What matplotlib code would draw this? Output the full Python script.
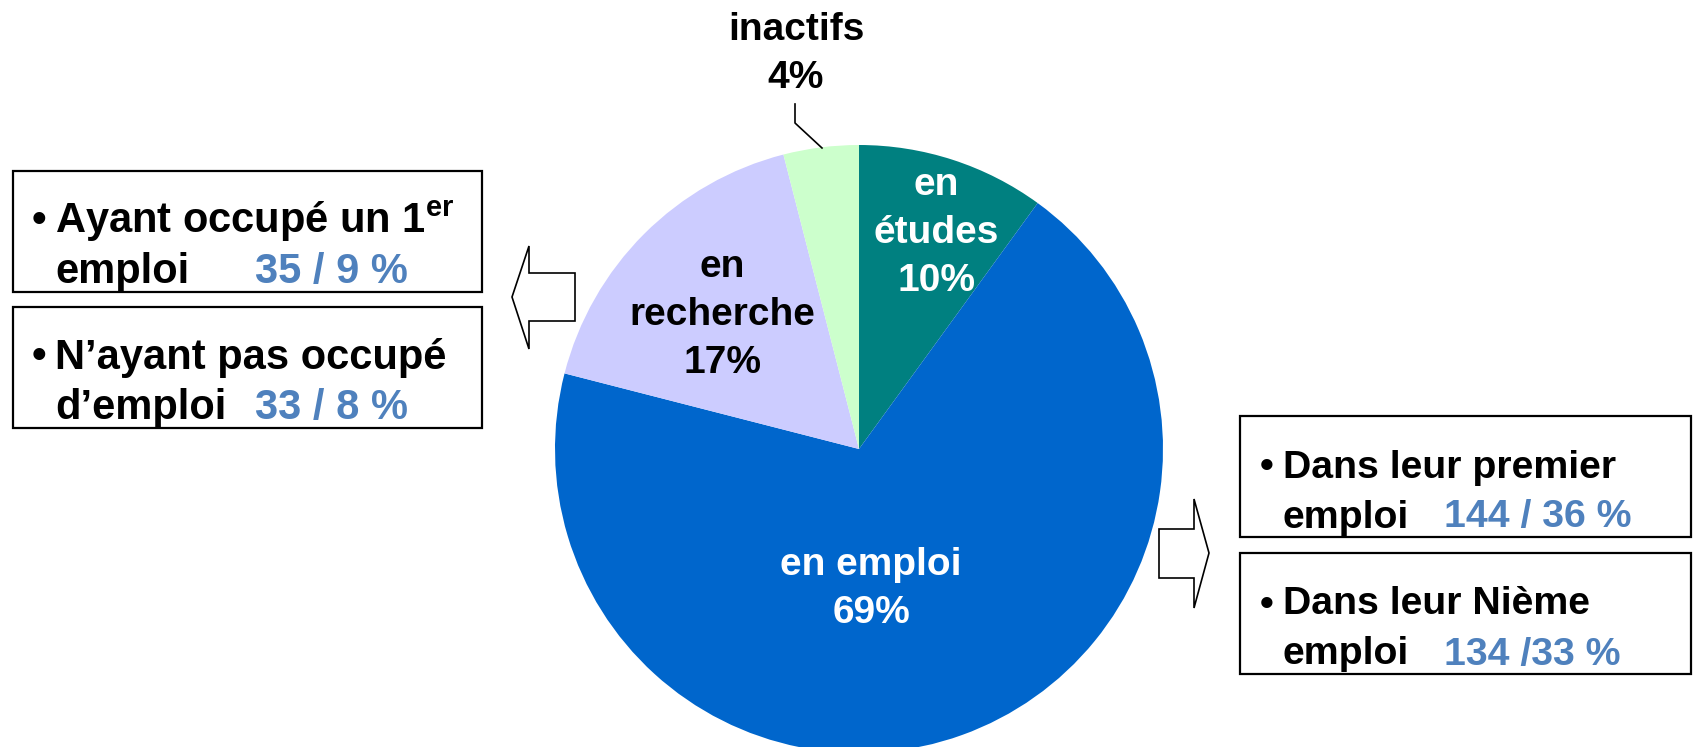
import matplotlib
matplotlib.use("Agg")
import matplotlib.pyplot as plt
from matplotlib.patches import Rectangle, Polygon

plt.rcParams["font.family"] = ["Liberation Sans", "DejaVu Sans"]
plt.rcParams["mathtext.fontset"] = "custom"
plt.rcParams["mathtext.rm"] = "Liberation Sans"
plt.rcParams["mathtext.bf"] = "Liberation Sans:bold"

# pie data (clockwise from 12 o'clock)
categories = ["en études", "en emploi", "en recherche", "inactifs"]
shares = [10, 69, 17, 4]
colors = ["#008080", "#0066CC", "#CCCCFF", "#CCFFCC"]
label_lines = [["en", "études", "10%"], ["en emploi", "69%"],
               ["en", "recherche", "17%"], ["inactifs", "4%"]]
label_colors = ["white", "white", "black", "black"]

# detail boxes
left_items = [("Ayant occupé un 1$^{\\mathbf{er}}$", "emploi", "35 / 9 %"),
              ("N’ayant pas occupé", "d’emploi", "33 / 8 %")]
right_items = [("Dans leur premier", "emploi", "144 / 36 %"),
               ("Dans leur Nième", "emploi", "134 /33 %")]

W, H = 1693, 747
BLUE_TXT = "#4F81BD"


def Y(y):
    return H - y


fig = plt.figure(figsize=(W / 100, H / 100), dpi=100)
ax = fig.add_axes([0, 0, 1, 1])

cx, cy, r = 859, 449, 304
wedges, _ = ax.pie(shares, colors=colors, startangle=90, counterclock=False,
                   center=(cx, Y(cy)), radius=r,
                   wedgeprops=dict(linewidth=0))
ax.set_xlim(0, W)
ax.set_ylim(0, H)
ax.set_aspect("equal")
ax.axis("off")

# pie labels: (center x, first baseline y)
label_pos = [(936, 195), (871, 575), (722, 277), (796, 40)]
for lines, (lx, ly), col in zip(label_lines, label_pos, label_colors):
    for k, line in enumerate(lines):
        ax.text(lx, Y(ly + k * 48), line, ha="center", va="baseline",
                fontsize=28, fontweight="bold", color=col)

# leader line for inactifs
ax.plot([795, 795, 822], [Y(104), Y(123), Y(148)], color="black", lw=1.2)


def draw_box(x0, x1, y0, y1, item, bx, tx, vx, fs):
    ax.add_patch(Rectangle((x0, Y(y1)), x1 - x0, y1 - y0, fill=False,
                           edgecolor="black", lw=1.6))
    first, second, val = item
    b1 = y0 + (y1 - y0) / 2 - 25 + 26
    ax.text(bx, Y(b1), "•", ha="center", va="baseline", fontsize=fs,
            fontweight="bold")
    ax.text(tx, Y(b1), first, ha="left", va="baseline", fontsize=fs,
            fontweight="bold")
    ax.text(tx, Y(b1 + 50), second, ha="left", va="baseline", fontsize=fs,
            fontweight="bold")
    ax.text(vx, Y(b1 + 50), val, ha="left", va="baseline", fontsize=fs,
            fontweight="bold", color=BLUE_TXT)


draw_box(13, 482, 171, 292, left_items[0], 39, 55, 255, 30)
draw_box(13, 482, 307, 428, left_items[1], 39, 55, 255, 30)
draw_box(1240, 1691, 416, 537, right_items[0], 1267, 1283, 1444, 28.3)
draw_box(1240, 1691, 553, 674, right_items[1], 1267, 1283, 1444, 28.3)

# block arrows
left_arrow = [(512, 297), (529, 246), (529, 273), (575, 273), (575, 321),
              (529, 321), (529, 349)]
right_arrow = [(1209, 553), (1194, 499), (1194, 529), (1159, 529),
               (1159, 578), (1194, 578), (1194, 608)]
for pts in (left_arrow, right_arrow):
    ax.add_patch(Polygon([(x, Y(y)) for x, y in pts], closed=True,
                         facecolor="white", edgecolor="black", lw=1.2))

fig.savefig("out.png", dpi=100)
